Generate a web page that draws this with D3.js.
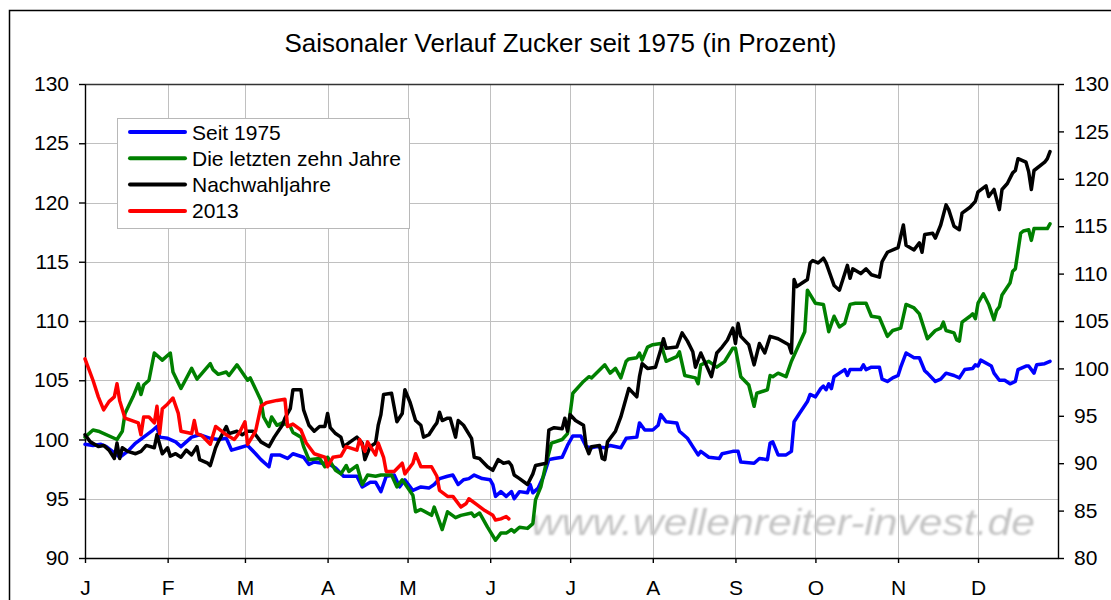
<html>
<head>
<script src="https://d3js.org/d3.v7.min.js"></script>
<style>
  body { margin: 0; background: #fff; }
  text { font-family: "Liberation Sans", Arial, sans-serif; }
</style>
</head>
<body>
<svg width="1111" height="600"></svg>
<script>
// month axis (day of year)
const monthLabels = ["J", "F", "M", "A", "M", "J", "J", "A", "S", "O", "N", "D"];
const monthStarts = [0, 31, 60, 91, 121, 152, 182, 213, 244, 274, 305, 335];
const leftTicks = [90, 95, 100, 105, 110, 115, 120, 125, 130];
const rightTicks = [80, 85, 90, 95, 100, 105, 110, 115, 120, 125, 130];

const seriesNames = ["Seit 1975", "Die letzten zehn Jahre", "Nachwahljahre", "2013"];
const seriesColors = ["#0000ff", "#008000", "#000000", "#ff0000"];

// Seit 1975
const blueDays = [0,3,6,8,12,13,16,19,22,25,27,28,31,34,36,40,43,47,50,53,55,58,61,64,66,69,70,73,76,78,82,84,86,89,91,94,97,102,104,107,109,111,113,116,118,120,123,126,129,131,133,136,138,140,142,144,146,149,152,153,154,156,158,160,161,163,166,167,168,170,172,174,176,179,181,183,186,188,190,192,195,197,201,203,207,208,210,213,215,216,218,222,223,226,228,230,231,234,238,239,243,245,246,251,253,256,257,258,260,263,265,266,268,271,272,274,276,277,278,279,280,281,283,285,286,287,291,292,293,295,298,299,301,303,305,306,308,311,313,315,316,319,321,323,326,328,330,333,334,335,336,340,341,343,345,347,349,350,353,354,356,357,360,362];
const blueValues = [99.6,99.5,99.6,99.4,98.7,98.5,99.0,99.7,100.2,100.7,101.1,100.2,100.1,99.8,99.4,100.2,100.4,100.1,100.0,100.1,99.1,99.3,99.5,98.8,98.3,97.7,98.7,98.7,98.4,98.8,98.5,97.9,98.1,98.0,98.0,97.6,96.9,96.9,96.0,96.4,96.4,95.6,96.9,97.0,96.0,96.6,95.7,96.0,95.9,96.2,96.7,96.9,97.0,96.2,96.6,96.7,97.0,96.7,96.6,96.2,95.2,95.6,95.2,95.6,95.0,95.6,95.5,96.2,95.5,95.9,96.9,98.3,98.4,98.5,99.5,100.3,100.3,99.4,99.3,99.4,99.3,99.5,99.3,100.1,100.2,101.4,100.8,100.8,101.2,102.1,101.5,101.4,100.7,100.1,99.4,98.7,99.0,98.5,98.4,98.8,99.0,99.0,98.1,98.0,98.4,98.3,99.7,99.8,98.7,98.7,99.0,101.5,102.2,103.2,103.8,103.6,104.3,104.5,104.2,104.7,104.3,105.3,105.6,105.9,105.4,105.9,105.9,106.3,105.9,106.1,106.1,105.1,104.9,105.2,105.4,106.1,107.3,106.9,106.9,105.8,105.6,104.9,105.1,105.6,105.4,105.2,105.9,106.0,106.3,106.2,106.7,106.2,105.6,105.0,105.0,104.7,104.9,105.9,106.2,106.2,105.6,106.3,106.4,106.6];

// Die letzten zehn Jahre
const greenDays = [0,3,5,12,14,15,18,20,21,22,24,26,29,32,33,36,40,42,47,48,50,53,54,57,61,62,66,67,69,70,72,74,77,78,81,82,84,88,90,91,94,96,98,99,102,104,106,109,111,115,117,119,123,124,126,130,131,134,136,139,141,145,146,148,151,154,156,158,160,161,163,166,168,169,171,173,175,179,181,183,187,189,190,195,197,199,201,203,204,207,208,209,211,213,216,218,222,223,225,229,230,231,234,237,240,243,244,246,249,251,252,256,257,258,260,263,265,270,271,274,277,279,281,283,285,287,289,293,295,298,301,303,306,308,311,313,316,319,321,322,323,326,327,328,329,332,333,334,335,337,339,341,342,343,344,347,348,349,351,352,354,355,356,361,362];
const greenValues = [100.2,100.8,100.7,100.0,100.7,102.2,103.6,104.7,103.8,104.6,105.0,107.3,106.7,107.3,105.7,104.3,106.0,105.1,106.4,105.9,105.5,105.7,105.4,106.3,105.0,105.2,103.3,101.9,101.1,101.9,101.2,101.4,101.1,100.6,100.2,99.4,98.3,98.4,97.7,98.5,97.4,97.1,97.8,97.3,97.8,96.2,97.0,96.9,97.0,97.0,96.0,96.6,95.3,93.9,94.1,93.6,94.3,92.4,93.9,93.4,93.6,93.8,93.5,93.8,92.6,91.5,92.1,92.1,92.4,92.2,92.6,92.5,92.9,94.9,96.0,98.0,99.7,100.0,100.5,103.9,104.9,105.3,105.2,106.3,105.6,106.0,105.2,106.6,106.8,106.9,107.3,106.7,107.8,108.0,108.1,106.6,107.0,107.4,105.4,105.2,104.7,106.3,106.6,106.1,106.6,107.7,107.7,105.3,104.6,102.8,103.9,104.2,105.4,105.3,105.6,105.3,106.6,109.1,112.6,111.5,111.4,109.1,110.4,109.5,109.8,111.4,111.5,111.5,110.4,110.3,108.7,109.2,109.4,111.4,111.1,110.6,108.5,109.2,109.4,109.9,109.2,109.0,108.4,108.3,109.9,110.4,110.6,110.2,111.5,112.3,111.4,110.1,110.9,111.2,112.2,113.2,114.2,114.4,117.4,117.6,117.7,116.8,117.8,117.8,118.2];

// Nachwahljahre
const blackDays = [0,2,5,7,9,11,12,13,14,16,19,21,23,26,27,29,31,32,34,36,38,40,42,43,46,47,49,50,53,54,57,59,61,63,66,69,71,74,75,77,78,81,82,84,86,88,90,91,92,94,96,97,102,104,105,107,109,110,111,112,115,117,119,120,122,124,126,127,129,131,132,133,134,136,137,139,140,142,145,146,148,151,153,155,157,159,160,161,163,166,168,169,173,174,176,179,180,181,182,184,187,188,189,190,193,194,195,196,199,201,203,204,207,208,209,211,214,216,217,218,222,224,226,228,229,231,233,235,237,239,241,243,244,245,246,249,251,253,255,257,260,264,265,266,267,269,271,272,273,275,277,278,281,283,286,287,288,291,293,295,298,299,301,305,307,308,311,313,314,315,318,319,321,323,324,326,328,329,332,334,335,338,339,341,343,344,346,348,349,350,353,354,355,356,360,361,362];
const blackValues = [100.4,99.8,99.4,99.5,99.1,98.4,99.7,98.4,99.3,99.0,98.8,99.0,99.5,99.3,100.4,98.8,99.3,98.6,98.8,98.5,99.1,98.7,99.4,98.3,98.0,97.8,99.3,99.8,101.1,100.5,100.7,100.4,100.7,100.7,99.8,99.4,100.2,101.2,101.8,102.6,104.2,104.2,102.5,101.2,100.7,101.1,101.1,102.2,101.0,100.5,100.2,99.4,100.2,99.7,98.3,99.4,99.7,101.2,102.1,103.8,103.9,101.5,102.2,104.2,103.1,101.6,101.2,100.2,100.4,101.1,101.4,102.3,101.6,101.8,101.8,100.2,101.6,101.2,100.1,98.5,98.4,97.7,97.4,98.3,98.0,98.1,97.8,97.0,96.7,96.2,97.1,97.8,98.0,100.8,101.0,100.9,101.8,100.7,102.1,101.6,101.2,99.4,98.8,99.4,99.5,98.4,98.3,99.8,100.7,101.9,103.5,104.3,103.6,105.3,106.4,106.0,106.1,107.6,108.5,107.7,107.8,109.0,108.3,107.4,106.1,107.3,106.3,105.3,107.3,107.8,108.4,109.4,108.1,109.8,108.7,108.0,106.3,108.1,107.3,108.7,108.5,108.0,107.3,113.5,112.9,113.2,113.5,114.9,115.1,114.9,115.3,114.9,113.0,112.6,114.7,113.6,114.4,114.0,114.4,113.9,113.7,115.0,115.8,116.2,118.1,116.4,116.0,116.6,115.8,117.3,117.4,117.0,118.1,119.8,119.4,118.0,117.7,119.1,119.6,120.1,120.9,121.4,120.5,121.1,119.4,121.1,121.6,122.5,122.7,123.7,123.4,122.6,121.1,122.7,123.4,123.7,124.3];

// 2013
const redDays = [0,3,5,7,9,11,12,13,15,20,21,22,24,26,27,28,29,31,33,35,36,40,41,42,44,47,49,53,56,58,60,61,64,66,68,72,75,76,78,81,83,86,90,91,93,96,98,102,103,105,106,109,110,112,113,116,119,120,123,124,126,130,132,133,136,138,141,143,144,147,150,153,154,156,158,159];
const redValues = [106.8,105.0,103.6,102.5,103.2,103.6,104.7,103.3,101.8,101.4,100.4,101.9,101.9,101.4,102.8,100.5,102.6,103.0,103.5,102.2,100.7,100.5,101.6,100.5,100.3,99.6,101.1,100.4,100.0,100.6,101.5,99.6,100.7,102.8,103.1,103.3,103.4,101.1,101.3,100.8,99.7,98.8,98.5,97.7,98.5,98.6,99.4,99.1,100.0,99.0,99.8,98.7,99.7,98.5,97.3,97.3,98.0,97.1,98.0,98.8,97.7,97.7,96.9,95.7,95.2,95.2,94.3,94.6,95.0,94.5,94.0,93.6,93.2,93.3,93.5,93.3];

const series = [
  { days: blueDays, values: blueValues },
  { days: greenDays, values: greenValues },
  { days: blackDays, values: blackValues },
  { days: redDays, values: redValues }
];

const svg = d3.select("svg");
const plotLeft = 85, plotRight = 1058, plotTop = 84, plotBottom = 558;

const x = d3.scaleLinear().domain([0, 365]).range([plotLeft, plotRight]);
const y = d3.scaleLinear().domain([90, 130]).range([plotBottom, plotTop]);
const yR = d3.scaleLinear().domain([80, 130]).range([plotBottom, plotTop]);

// outer chart frame
svg.append("rect")
  .attr("x", 9.5).attr("y", 10.5)
  .attr("width", 1200).attr("height", 700)
  .attr("fill", "none").attr("stroke", "#000").attr("stroke-width", 1.5);

// title
svg.append("text")
  .attr("x", 560.5).attr("y", 52)
  .attr("text-anchor", "middle")
  .style("font-size", "26px")
  .text("Saisonaler Verlauf Zucker seit 1975 (in Prozent)");

// grid
const grid = svg.append("g").attr("stroke", "#c0c0c0").attr("stroke-width", 1);
grid.selectAll("line.v").data(monthStarts.slice(1)).enter().append("line")
  .attr("x1", d => Math.round(x(d)) + 0.5).attr("x2", d => Math.round(x(d)) + 0.5)
  .attr("y1", plotTop).attr("y2", plotBottom);
grid.selectAll("line.h").data(leftTicks.slice(1, -1)).enter().append("line")
  .attr("y1", d => Math.round(y(d)) + 0.5).attr("y2", d => Math.round(y(d)) + 0.5)
  .attr("x1", plotLeft).attr("x2", plotRight);

// top border of plot area
svg.append("line")
  .attr("x1", plotLeft).attr("x2", plotRight).attr("y1", plotTop + 0.5).attr("y2", plotTop + 0.5)
  .attr("stroke", "#333").attr("stroke-width", 1.3);

// watermark
const defs = svg.append("defs");
defs.append("filter").attr("id", "soft")
  .append("feGaussianBlur").attr("stdDeviation", 1.1);
svg.append("text")
  .attr("x", 531).attr("y", 535)
  .attr("textLength", 504).attr("lengthAdjust", "spacingAndGlyphs")
  .attr("fill", "#c4c4c4")
  .attr("filter", "url(#soft)")
  .style("font-size", "36px").style("font-style", "italic")
  .text("www.wellenreiter-invest.de");

// axes
function styleAxis(g) {
  g.selectAll("path, line").attr("stroke", "#000").attr("stroke-width", 1.4);
  g.selectAll("text").attr("fill", "#000").style("font-size", "21px")
    .style("font-family", '"Liberation Sans", Arial, sans-serif');
}
svg.append("g").attr("transform", "translate(" + plotLeft + ",0)")
  .call(d3.axisLeft(y).tickValues(leftTicks).tickSize(6).tickSizeOuter(0).tickPadding(10))
  .call(styleAxis);
svg.append("g").attr("transform", "translate(" + plotRight + ",0)")
  .call(d3.axisRight(yR).tickValues(rightTicks).tickSize(6).tickSizeOuter(0).tickPadding(10))
  .call(styleAxis);
svg.append("g").attr("transform", "translate(0," + plotBottom + ")")
  .call(d3.axisBottom(x).tickValues(monthStarts).tickFormat((d, i) => monthLabels[i])
    .tickSize(5).tickSizeOuter(0).tickPadding(17))
  .call(styleAxis);

// series lines
const line = d3.line().x(d => x(d[0])).y(d => y(d[1]));
series.forEach((s, i) => {
  const pts = s.days.map((d, j) => [d, s.values[j]]);
  svg.append("path")
    .datum(pts)
    .attr("d", line)
    .attr("fill", "none")
    .attr("stroke", seriesColors[i])
    .attr("stroke-width", 3.5)
    .attr("stroke-linejoin", "round")
    .attr("stroke-linecap", "round");
});

// legend
const leg = svg.append("g");
leg.append("rect")
  .attr("x", 117.5).attr("y", 118.5).attr("width", 292).attr("height", 110)
  .attr("fill", "#fff").attr("stroke", "#b8b8b8").attr("stroke-width", 1);
seriesNames.forEach((name, i) => {
  const ly = 132 + i * 26.3;
  leg.append("line")
    .attr("x1", 130).attr("x2", 185).attr("y1", ly).attr("y2", ly)
    .attr("stroke", seriesColors[i]).attr("stroke-width", 4)
    .attr("stroke-linecap", "round");
  leg.append("text")
    .attr("x", 192).attr("y", ly).attr("dy", "0.36em")
    .style("font-size", "21px")
    .text(name);
});
</script>
</body>
</html>
